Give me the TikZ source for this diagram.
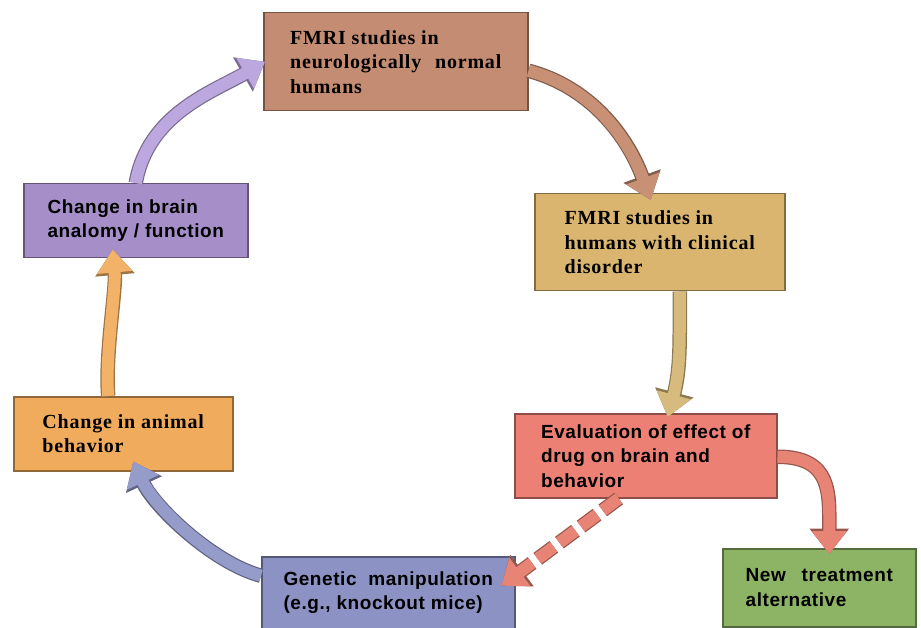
\documentclass[tikz,border=0pt]{standalone}
\usepackage{fontspec}
\setmainfont{Liberation Serif}
\setsansfont{Liberation Sans}
\newfontfamily\serifbox{Liberation Serif}[LetterSpace=4]
\newfontfamily\sansbox{Liberation Sans}[LetterSpace=3]
\usetikzlibrary{arrows.meta}

\definecolor{brownbox}{RGB}{196,140,114}
\definecolor{tanbox}{RGB}{217,181,112}
\definecolor{salmonbox}{RGB}{236,128,116}
\definecolor{greenbox}{RGB}{141,179,101}
\definecolor{bluebox}{RGB}{141,146,196}
\definecolor{orangebox}{RGB}{240,172,92}
\definecolor{purplebox}{RGB}{166,142,200}
\definecolor{purplear}{RGB}{188,168,222}
\definecolor{brownar}{RGB}{200,145,118}
\definecolor{tanar}{RGB}{214,186,126}
\definecolor{salmonar}{RGB}{232,132,118}
\definecolor{bluear}{RGB}{150,156,202}
\definecolor{orangear}{RGB}{242,178,104}

\begin{document}
\begin{tikzpicture}[x=1pt,y=-1pt,
box/.style={draw=#1!60!black, fill=#1, line width=1.5pt, anchor=north west, align=left, inner sep=0pt},
serif/.style={font=\serifbox\bfseries\fontsize{20}{24.5}\selectfont},
sans/.style={font=\sansbox\bfseries\fontsize{19}{24.5}\selectfont},
fat dash/.style={},
fat/.style={draw=#1, line width=12pt, -{Triangle[length=23pt,width=34pt]},
  preaction={draw=#1!65!black, line width=14.5pt, -{Triangle[length=25.5pt,width=38pt]}, fat dash}},
dashes/.style={fat dash/.style={dash pattern=on 20pt off 7pt}, dash pattern=on 20pt off 7pt}
]
\useasboundingbox (0,0) rectangle (921,628);

\node[box=brownbox, serif, minimum width=264pt, minimum height=98pt] (normal) at (263,12)
  {FMRI studies in\\neurologically\hspace{8pt} normal\\humans};
\node[box=tanbox, serif, minimum width=250pt, minimum height=97pt] (clinical) at (534,193)
  {FMRI studies in\\humans with clinical\\disorder};
\node[box=salmonbox, sans, minimum width=262pt, minimum height=84pt] (drug) at (514,413)
  {Evaluation of effect of\\drug on brain and\\behavior};
\node[box=greenbox, sans, minimum width=193pt, minimum height=78pt] (treat) at (722,548)
  {New\hspace{10pt} treatment\\alternative};
\node[box=bluebox, sans, minimum width=253pt, minimum height=72pt] (genetic) at (261,556)
  {Genetic\hspace{6pt} manipulation\\(e.g., knockout mice)};
\node[box=orangebox, serif, minimum width=219pt, minimum height=74pt] (animal) at (13,396)
  {Change in animal\\behavior};
\node[box=purplebox, sans, minimum width=224pt, minimum height=74pt] (brain) at (23,183)
  {Change in brain\\analomy / function};

\draw[fat=purplear] (brain.north) .. controls +(80:70pt) and +(210:60pt) .. ([xshift=2pt]normal.west);
\draw[fat=brownar] ([yshift=-9pt]normal.east) .. controls +(-15:70pt) and +(110:60pt) .. ([xshift=-9pt,yshift=-7pt]clinical.north);
\draw[fat=tanar] ([xshift=20pt]clinical.south) .. controls +(-90:50pt) and +(75:50pt) .. ([xshift=22pt,yshift=-4pt]drug.north);
\draw[fat=salmonar] ([yshift=-1pt]drug.east) .. controls +(0:55pt) and +(90:60pt) .. ([xshift=10pt,yshift=-6pt]treat.north);
\draw[fat=salmonar, dashes] ([xshift=-27pt]drug.south) -- ([xshift=-14pt,yshift=7pt]genetic.east);
\draw[fat=bluear] ([yshift=17pt]genetic.west) .. controls +(165:50pt) and +(-65:50pt) .. ([xshift=10pt,yshift=10pt]animal.south);
\draw[fat=orangear] ([xshift=-15pt]animal.north) .. controls +(95:40pt) and +(-85:40pt) .. ([xshift=-23pt,yshift=9pt]brain.south);
\end{tikzpicture}
\end{document}
